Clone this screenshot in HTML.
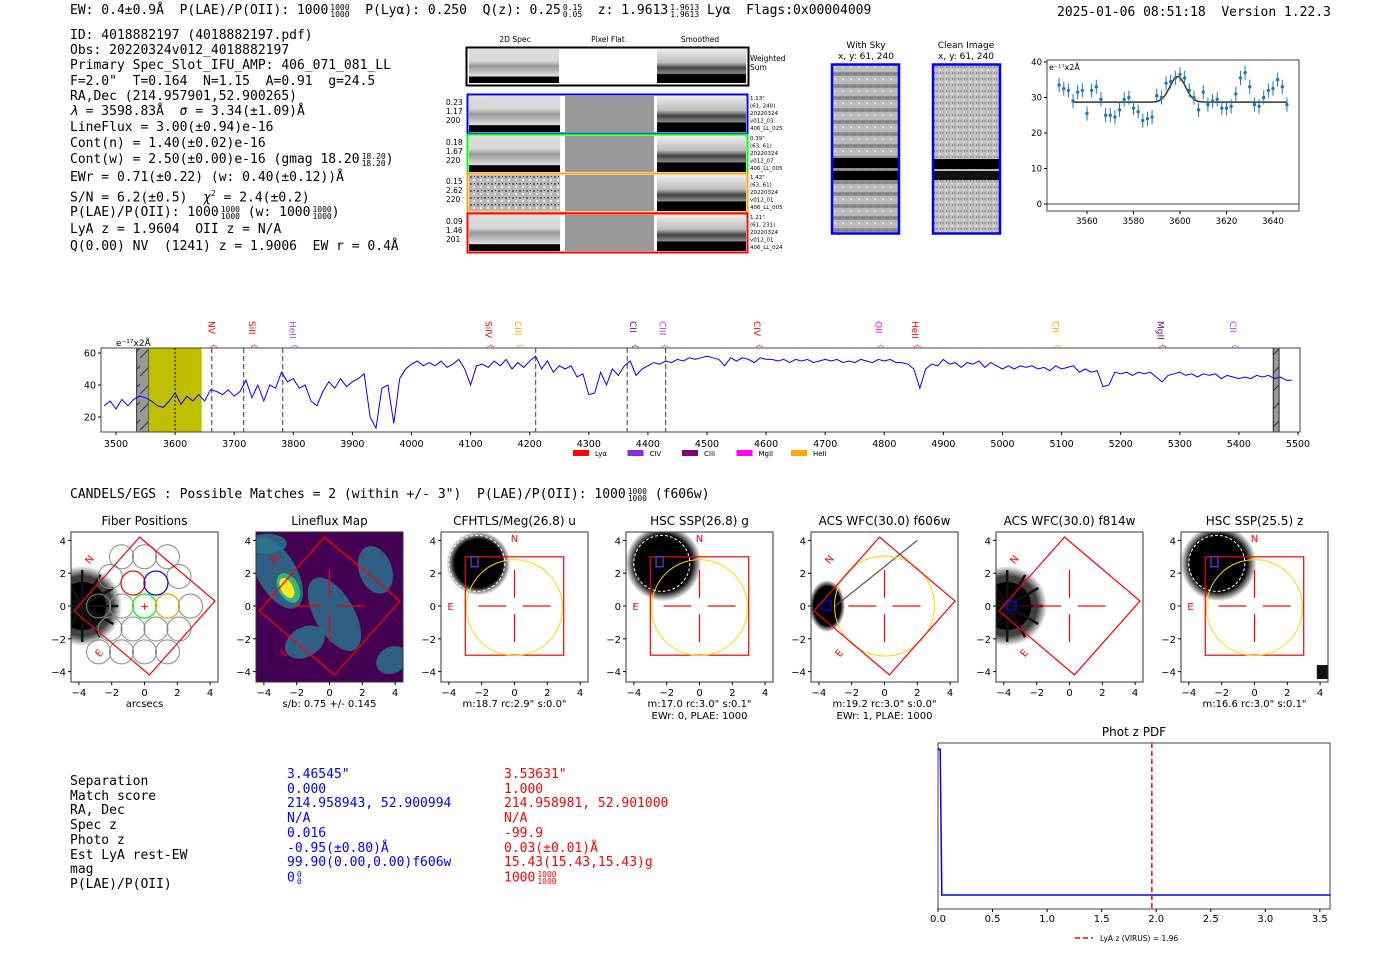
<!DOCTYPE html>
<html><head><meta charset="utf-8">
<style>
body{margin:0;background:#fff;width:1400px;height:953px;overflow:hidden;position:relative;font-family:"DejaVu Sans Mono","Liberation Mono",monospace;}
.t{position:absolute;white-space:pre;color:#000;font-size:13px;line-height:15px;}
.fr{display:inline-block;vertical-align:middle;font-size:8px;line-height:7px;text-align:center;margin-left:2px;}
.fr span{display:block}
svg{position:absolute;left:0;top:0}
</style></head><body>
<svg id="main" width="1400" height="953" viewBox="0 0 1400 953"></svg>

<div class="t" style="left:70px;top:3px">EW: 0.4±0.9Å  P(LAE)/P(OII): 1000<span class="fr"><span>1000</span><span>1000</span></span>  P(Lyα): 0.250  Q(z): 0.25<span class="fr"><span>0.15</span><span>0.05</span></span>  z: 1.9613<span class="fr"><span>1.9613</span><span>1.9613</span></span> Lyα  Flags:0x00004009</div>
<div class="t" style="left:1057px;top:5px">2025-01-06 08:51:18  Version 1.22.3</div>

<div class="t" style="left:70px;top:28px;line-height:15.2px">ID: 4018882197 (4018882197.pdf)
Obs: 20220324v012_4018882197
Primary Spec_Slot_IFU_AMP: 406_071_081_LL
F=2.0"  T=0.164  N=1.15  A=0.91  g=24.5
RA,Dec (214.957901,52.900265)</div>
<div class="t" style="left:70px;top:104px;line-height:16px"><i>λ</i> = 3598.83Å  <i>σ</i> = 3.34(±1.09)Å
LineFlux = 3.00(±0.94)e-16
Cont(n) = 1.40(±0.02)e-16</div>
<div class="t" style="left:70px;top:152px">Cont(w) = 2.50(±0.00)e-16 (gmag 18.20<span class="fr"><span>18.20</span><span>18.20</span></span>)</div>
<div class="t" style="left:70px;top:170px">EWr = 0.71(±0.22) (w: 0.40(±0.12))Å</div>
<div class="t" style="left:70px;top:186px">S/N = 6.2(±0.5)  <i>χ</i><sup style="font-size:8px">2</sup> = 2.4(±0.2)</div>
<div class="t" style="left:70px;top:205px">P(LAE)/P(OII): 1000<span class="fr"><span>1000</span><span>1000</span></span> (w: 1000<span class="fr"><span>1000</span><span>1000</span></span>)</div>
<div class="t" style="left:70px;top:222px">LyA z = 1.9604  OII z = N/A</div>
<div class="t" style="left:70px;top:239px">Q(0.00) NV  (1241) z = 1.9006  EW r = 0.4Å</div>

<div class="t" style="left:70px;top:487px">CANDELS/EGS : Possible Matches = 2 (within +/- 3")  P(LAE)/P(OII): 1000<span class="fr"><span>1000</span><span>1000</span></span> (f606w)</div>

<div class="t" style="left:70px;top:775px;line-height:14.7px">Separation
Match score
RA, Dec
Spec z
Photo z
Est LyA rest-EW
mag
P(LAE)/P(OII)</div>
<div class="t" style="left:287px;top:768px;line-height:14.7px;color:#00f">3.46545"
0.000
214.958943, 52.900994
N/A
0.016
-0.95(±0.80)Å
99.90(0.00,0.00)f606w
0<span class="fr"><span>0</span><span>0</span></span></div>
<div class="t" style="left:504px;top:768px;line-height:14.7px;color:#f00">3.53631"
1.000
214.958981, 52.901000
N/A
-99.9
0.03(±0.01)Å
15.43(15.43,15.43)g
1000<span class="fr"><span>1000</span><span>1000</span></span></div>

<script>
// ---------- data ----------
const specStart = 3480, specStep = 10;
const specFlux = [27,30,25,31,27,31,33,32,30,27,26,30,35,28,33,30,34,30,37,36,34,37,33,36,43,32,40,30,40,38,48,42,44,38,40,30,27,36,42,38,44,39,42,44,47,20,13,38,40,16,44,50,53,55,52,54,52,55,51,53,56,50,40,52,53,51,55,52,56,50,54,51,55,58,50,55,48,52,50,52,45,47,34,35,48,40,50,46,52,55,46,50,52,54,53,55,54,56,55,57,56,57,58,57,56,52,57,55,57,56,54,57,56,56,55,56,54,56,55,56,54,55,56,55,56,54,55,54,56,55,54,56,55,56,54,54,53,50,38,50,53,52,56,53,54,51,54,53,55,51,54,52,50,52,50,52,51,52,50,51,49,52,50,51,52,48,50,48,49,39,40,48,47,48,46,48,47,48,45,42,46,47,48,46,47,45,47,46,47,44,46,45,44,45,44,46,45,46,44,45,43,43];
const specXTicks = [3500,3600,3700,3800,3900,4000,4100,4200,4300,4400,4500,4600,4700,4800,4900,5000,5100,5200,5300,5400,5500];
const specYTicks = [20,40,60];
const lineMarkers = [3662,3716,3782,4210,4365,4430];
const lineLabels = [["NV",3662,"#f00"],["SiII",3730,"#f00"],["HeII",3799,"#a040ff"],["SiIV",4130,"#f00"],["CIII",4180,"#ffa500"],["CII",4375,"#800080"],["CIII",4425,"#a040ff"],["CIV",4585,"#f00"],["OII",4790,"#f0f"],["HeII",4852,"#f00"],["CII",5090,"#ffa500"],["MgII",5267,"#800080"],["CII",5390,"#a040ff"]];
const legendNames = ["Lyα","CIV","CIII","MgII","HeII"];
const legendColors = ["#f00","#8a2be2","#800080","#f0f","#ffa500"];

const fitWave = [3548,3550,3552,3554,3556,3558,3560,3562,3564,3566,3568,3570,3572,3574,3576,3578,3580,3582,3584,3586,3588,3590,3592,3594,3596,3598,3600,3602,3604,3606,3608,3610,3612,3614,3616,3618,3620,3622,3624,3626,3628,3630,3632,3634,3636,3638,3640,3642,3644,3646];
const fitFlux = [33.5,32.5,32,29,31.5,32,25.5,32,33,29.5,25,25,24.5,26.5,29.5,30,27,26,23.5,24,24.5,30.5,30,34,34.5,35.5,36.5,35.5,32,30,26.5,31.5,28,29,29.5,27,27,27.5,31,35.5,37,33,28,27.5,30,32,32.5,35,33,28];
const fitErr = 2;
const fitCont = 28.7, fitAmp = 7.2, fitCenter = 3599, fitSigma = 3.34;
const fitXTicks = [3560,3580,3600,3620,3640];
const fitYTicks = [0,10,20,30,40];

const pdfZ = [0,0.01,0.02,0.035,3.6];
const pdfP = [1,0.99,0.99,0.02,0.02];
const pdfXTicks = [0,0.5,1.0,1.5,2.0,2.5,3.0,3.5];
const pdfLyaZ = 1.96;

// ---------- helpers ----------
const svg = document.getElementById('main');
const NS = 'http://www.w3.org/2000/svg';
function mk(tag, at, parent){const e=document.createElementNS(NS,tag);for(const k in at)e.setAttribute(k,at[k]);(parent||svg).appendChild(e);return e;}
function txt(x,y,s,size,anchor,fill,parent,rot){const e=mk('text',{x:x,y:y,'font-size':size,'text-anchor':anchor||'middle',fill:fill||'#000','font-family':'DejaVu Sans, Liberation Sans, sans-serif'},parent);if(rot)e.setAttribute('transform','rotate('+rot+' '+x+' '+y+')');e.textContent=s;return e;}

const defs = mk('defs',{});
defs.innerHTML = `
<pattern id="hatch" width="10" height="18" patternUnits="userSpaceOnUse"><rect width="10" height="18" fill="#999"/><path d="M0 16 L10 6" stroke="#333" stroke-width="1"/></pattern>
<pattern id="noise" width="6" height="6" patternUnits="userSpaceOnUse"><rect width="6" height="6" fill="#c0c0c0"/><rect x="0" y="0" width="2" height="2" fill="#a0a0a0"/><rect x="3" y="3" width="2" height="2" fill="#ddd"/><rect x="4" y="0" width="1" height="2" fill="#888"/></pattern>
<pattern id="noise2" width="7" height="7" patternUnits="userSpaceOnUse"><rect width="7" height="7" fill="#b8b8b8"/><rect x="1" y="1" width="2" height="2" fill="#666"/><rect x="4" y="4" width="2" height="2" fill="#eee"/><rect x="5" y="1" width="1" height="1" fill="#333"/></pattern>
<pattern id="skystripe" width="8" height="12" patternUnits="userSpaceOnUse"><rect width="8" height="12" fill="#bbb"/><rect y="0" width="8" height="4" fill="#8c8c8c"/><rect x="2" y="6" width="2" height="2" fill="#ddd"/><rect x="6" y="2" width="1" height="1" fill="#555"/></pattern>
<radialGradient id="blob"><stop offset="0" stop-color="#000"/><stop offset="0.75" stop-color="#000"/><stop offset="1" stop-color="#000" stop-opacity="0"/></radialGradient>
<linearGradient id="specband" x1="0" y1="0" x2="0" y2="1"><stop offset="0" stop-color="#ddd"/><stop offset="0.35" stop-color="#d8d8d8"/><stop offset="0.5" stop-color="#999"/><stop offset="0.65" stop-color="#bbb"/><stop offset="0.8" stop-color="#e0e0e0"/><stop offset="0.82" stop-color="#000"/><stop offset="1" stop-color="#000"/></linearGradient>
<linearGradient id="smband" x1="0" y1="0" x2="0" y2="1"><stop offset="0" stop-color="#eee"/><stop offset="0.4" stop-color="#bbb"/><stop offset="0.55" stop-color="#444"/><stop offset="0.72" stop-color="#888"/><stop offset="0.75" stop-color="#000"/><stop offset="1" stop-color="#000"/></linearGradient>`;

// ---------- 2D spectra panels ----------
const g2d = mk('g',{});
txt(515,42,'2D Spec',7.5,'middle','#000',g2d);
txt(608,42,'Pixel Flat',7.5,'middle','#000',g2d);
txt(700,42,'Smoothed',7.5,'middle','#000',g2d);
mk('rect',{x:466.5,y:47.5,width:282,height:38,fill:'#fff',stroke:'#000','stroke-width':2},g2d);
mk('rect',{x:469,y:49,width:90,height:34,fill:'url(#specband)'},g2d);
mk('rect',{x:657,y:49,width:89,height:34,fill:'url(#smband)'},g2d);
txt(750,61,'Weighted',7.5,'start','#000',g2d);txt(750,70,'Sum',7.5,'start','#000',g2d);
const rows=[{y:94,c:'#00f',l:['0.23','1.17','200'],r:['1.13"','(61, 240)','20220324','v012_03','406_LL_025']},
{y:134,c:'#0f0',l:['0.18','1.67','220'],r:['0.39"','(63, 61)','20220324','v012_07','406_LL_005']},
{y:173,c:'#ffa500',l:['0.15','2.62','220'],r:['1.42"','(63, 61)','20220324','v012_01','406_LL_005']},
{y:213,c:'#f00',l:['0.09','1.46','201'],r:['1.21"','(61, 231)','20220324','v012_01','406_LL_024']}];
rows.forEach((r,i)=>{
  const g=mk('g',{},g2d);
  
  
  mk('rect',{x:469,y:r.y+2,width:91,height:36,fill:i==2?'url(#noise2)':'url(#specband)'},g);
  mk('rect',{x:565,y:r.y+2,width:89,height:36,fill:'#999'},g);
  mk('rect',{x:657,y:r.y+2,width:89,height:36,fill:'url(#smband)'},g);
  mk('rect',{x:467.5,y:r.y+0.5,width:280,height:39,fill:'none',stroke:r.c,'stroke-width':2},g);
  r.l.forEach((s,k)=>txt(446,r.y+11+k*9,s,7.5,'start','#000',g));
  r.r.forEach((s,k)=>txt(750,r.y+6+k*7.5,s,5.5,'start','#000',g));
});
const gs = mk('g',{});
txt(866,48,'With Sky',9,'middle','#000',gs);txt(866,59,'x, y: 61, 240',9,'middle','#000',gs);
txt(966,48,'Clean Image',9,'middle','#000',gs);txt(966,59,'x, y: 61, 240',9,'middle','#000',gs);
mk('rect',{x:832,y:65,width:67,height:168,fill:'url(#skystripe)'},gs);
mk('rect',{x:832,y:158,width:67,height:10,fill:'#000'},gs);
mk('rect',{x:832,y:171,width:67,height:9,fill:'#000'},gs);
mk('rect',{x:832,y:64.5,width:67,height:169,fill:'none',stroke:'#00f','stroke-width':2.5},gs);
mk('rect',{x:933,y:65,width:67,height:168,fill:'url(#noise)'},gs);
mk('rect',{x:933,y:159,width:67,height:10,fill:'#000'},gs);
mk('rect',{x:933,y:171,width:67,height:9,fill:'#111'},gs);
mk('rect',{x:933,y:64.5,width:67,height:169,fill:'none',stroke:'#00f','stroke-width':2.5},gs);

// ---------- fit plot ----------
(function(){
  const L=1047,R=1299,T=60,B=211;
  const X=w=>1087+(w-3560)*(186/80), Y=v=>204-v*3.55;
  const g=mk('g',{});
  mk('rect',{x:L,y:T,width:R-L,height:B-T,fill:'#fff',stroke:'#444','stroke-width':1},g);
  mk('line',{x1:L,x2:R,y1:Y(0),y2:Y(0),stroke:'#444','stroke-width':1},g);
  fitYTicks.forEach(v=>{mk('line',{x1:L-3,x2:L,y1:Y(v),y2:Y(v),stroke:'#000'},g);txt(L-5,Y(v)+3,String(v),8.5,'end','#000',g);});
  fitXTicks.forEach(v=>{mk('line',{x1:X(v),x2:X(v),y1:B,y2:B+3,stroke:'#000'},g);txt(X(v),B+13,String(v),8.5,'middle','#000',g);});
  let d='';
  for(let w=3554;w<=3646;w+=0.5){const v=fitCont+fitAmp*Math.exp(-0.5*Math.pow((w-fitCenter)/fitSigma,2));d+=(d?'L':'M')+X(w).toFixed(1)+' '+Y(v).toFixed(1);}
  const fl=mk('path',{d:d,fill:'none',stroke:'#333','stroke-width':1.5},g);
  
  
  fitWave.forEach((w,i)=>{
    const p=mk('g',{},g);
    
    
    mk('line',{x1:X(w),x2:X(w),y1:Y(fitFlux[i]-fitErr),y2:Y(fitFlux[i]+fitErr),stroke:'#1f77b4','stroke-width':1},p);
    mk('circle',{cx:X(w),cy:Y(fitFlux[i]),r:1.7,fill:'#1f77b4'},p);
  });
  txt(L+2,T+10,'e⁻¹⁷x2Å',8,'start','#000',g);
})();

// ---------- spectrum ----------
(function(){
  const L=101,R=1300,T=348,B=432;
  const X=w=>116+(w-3500)*(1182/2000), Y=v=>417-(v-20)*1.6;
  const g=mk('g',{});
  mk('rect',{x:L,y:T,width:R-L,height:B-T,fill:'#fff'},g);
  mk('rect',{x:X(3535),y:T,width:X(3555)-X(3535),height:B-T,fill:'url(#hatch)',stroke:'#000','stroke-width':0.8},g);
  mk('rect',{x:X(3555),y:T,width:X(3645)-X(3555),height:B-T,fill:'#bfbf00'},g);
  mk('rect',{x:X(5458),y:T,width:X(5468)-X(5458),height:B-T,fill:'url(#hatch)',stroke:'#000','stroke-width':0.8},g);
  mk('line',{x1:X(3600),x2:X(3600),y1:T,y2:B,stroke:'#000','stroke-width':1,'stroke-dasharray':'2,2'},g);
  lineMarkers.forEach(w=>{const l=mk('line',{x1:X(w),x2:X(w),y1:T,y2:B,stroke:'#666','stroke-width':1.3,'stroke-dasharray':'5,3'},g);});
  let d='';
  specFlux.forEach((v,i)=>{const w=specStart+i*specStep;d+=(i?'L':'M')+X(w).toFixed(1)+' '+Y(v).toFixed(1);});
  const p=mk('path',{d:d,fill:'none',stroke:'#00f','stroke-width':1},g);
  
  
  mk('rect',{x:L,y:T,width:R-L,height:B-T,fill:'none',stroke:'#444','stroke-width':1},g);
  specYTicks.forEach(v=>{mk('line',{x1:L-3,x2:L,y1:Y(v),y2:Y(v),stroke:'#000'},g);txt(L-5,Y(v)+3.5,String(v),9.5,'end','#000',g);});
  specXTicks.forEach(v=>{mk('line',{x1:X(v),x2:X(v),y1:B,y2:B+3,stroke:'#000'},g);txt(X(v),B+15,String(v),9.5,'middle','#000',g);});
  txt(116,346,'e⁻¹⁷x2Å',9,'start','#000',g);
  lineLabels.forEach(a=>{
    const lx=X(a[1]);
    const t=txt(lx-3,321,a[0],9,'start',a[2],g,90);
    
    
    txt(lx,346,'{',7,'middle',a[2],g,90);
  });
  legendNames.forEach((n,i)=>{
    const x=573+i*54.5;
    const e=mk('g',{},g);
    
    
    mk('rect',{x:x,y:450,width:16,height:6,fill:legendColors[i]},e);
    txt(x+22,456,n,7,'start','#000',e);
  });
})();

// ---------- cutout panels ----------
const panels=[
 {title:'Fiber Positions',sub:['arcsecs']},
 {title:'Lineflux Map',sub:['s/b: 0.75 +/- 0.145']},
 {title:'CFHTLS/Meg(26.8) u',sub:['m:18.7 rc:2.9"  s:0.0"']},
 {title:'HSC SSP(26.8) g',sub:['m:17.0 rc:3.0"  s:0.1"','EWr: 0, PLAE: 1000']},
 {title:'ACS WFC(30.0) f606w',sub:['m:19.2 rc:3.0"  s:0.0"','EWr: 1, PLAE: 1000']},
 {title:'ACS WFC(30.0) f814w',sub:[]},
 {title:'HSC SSP(25.5) z',sub:['m:16.6 rc:3.0"  s:0.1"']}];
panels.forEach((P,i)=>{
  const x0=71+i*185, y0=532, W=147, H=150;
  const U=u=>x0+73.5+u*16.4, V=v=>606-v*16.4;
  const g=mk('g',{});
  
  
  const cp=mk('clipPath',{id:'cp'+i},defs);mk('rect',{x:x0,y:y0,width:W,height:H},cp);
  const c=mk('g',{'clip-path':'url(#cp'+i+')'},g);
  txt(x0+W/2,y0-7,P.title,12,'middle','#000',g);
  const red='#f00';
  const diamond=()=>mk('polygon',{points:[[-0.3,4.2],[4.3,0.3],[0.3,-4.2],[-4.3,-0.3]].map(p=>U(p[0])+','+V(p[1])).join(' '),fill:'none',stroke:red,'stroke-width':1.2},c);
  const cross=()=>{[[-2.2,0,-0.5,0],[0.5,0,2.2,0],[0,2.2,0,0.5],[0,-0.5,0,-2.2]].forEach(s=>mk('line',{x1:U(s[0]),y1:V(s[1]),x2:U(s[2]),y2:V(s[3]),stroke:red,'stroke-width':1.2},c));};
  if(i==1){
    mk('rect',{x:x0,y:y0,width:W,height:H,fill:'#440154'},c);
    [[-3.2,2,1.2,2.4,-30],[0.3,-0.5,1.2,2.5,-30],[-1.5,-2.2,1.3,0.9,-30],[2.8,2.2,1,1.5,-20],[3.8,-3.3,1,0.8,-30],[-3.8,3.8,1.2,0.6,0]].forEach(b=>mk('ellipse',{cx:U(b[0]),cy:V(b[1]),rx:b[2]*16.4,ry:b[3]*16.4,fill:'#2a788e',opacity:0.8,transform:`rotate(${b[4]} ${U(b[0])} ${V(b[1])})`},c));
    mk('ellipse',{cx:U(-2.5),cy:V(1.1),rx:10,ry:16,fill:'#35b779',transform:`rotate(-30 ${U(-2.5)} ${V(1.1)})`},c);
    mk('ellipse',{cx:U(-2.6),cy:V(1.1),rx:6,ry:11,fill:'#fde725',transform:`rotate(-30 ${U(-2.6)} ${V(1.1)})`},c);
  } else {
    mk('rect',{x:x0,y:y0,width:W,height:H,fill:'#fff'},c);
  }
  if(i==0||i==5){
    mk('circle',{cx:U(-3.8),cy:V(0),r:40,fill:'url(#blob)',opacity:0.75},c);
    mk('circle',{cx:U(-3.8),cy:V(0),r:24,fill:'#000'},c);
    for(let k=0;k<12;k++){const a=k*30*Math.PI/180;mk('line',{x1:U(-3.8),y1:V(0),x2:U(-3.8)+Math.cos(a)*36,y2:V(0)+Math.sin(a)*36,stroke:'#111','stroke-width':2.5},c);}
  }
  if(i==0){
    const hex=[[-1.4,3],[0,3],[1.4,3],[-2.1,1.8],[-0.7,1.4],[0.7,1.4],[2.1,1.8],[-1.4,0],[0,0],[1.4,0],[2.8,0],[-2.1,-1.4],[-0.7,-1.4],[0.7,-1.4],[2.1,-1.4],[-1.4,-2.8],[0,-2.8],[1.4,-2.8],[-2.8,0],[-2.8,-2.8]];
    hex.forEach(h=>mk('circle',{cx:U(h[0]),cy:V(h[1]),r:12,fill:'none',stroke:'#888','stroke-width':1},c));
    mk('circle',{cx:U(-0.7),cy:V(1.4),r:12,fill:'none',stroke:'#f00','stroke-width':1.2},c);
    mk('circle',{cx:U(0.7),cy:V(1.4),r:12,fill:'none',stroke:'#00f','stroke-width':1.2},c);
    mk('circle',{cx:U(0),cy:V(0),r:12,fill:'none',stroke:'#0f0','stroke-width':1.2},c);
    mk('circle',{cx:U(1.4),cy:V(0),r:12,fill:'none',stroke:'#ffa500','stroke-width':1.2},c);
    txt(U(0),V(0)+4,'+',11,'middle',red,c);
  }
  if(i==2||i==3||i==6){
    mk('circle',{cx:U(-2.2),cy:V(2.6),r:i==2?32:38,fill:'url(#blob)'},c);
    mk('circle',{cx:U(-2.3),cy:V(2.6),r:28,fill:'none',stroke:'#fff','stroke-width':1,'stroke-dasharray':'3,2'},c);
    mk('rect',{x:U(-3),y:V(3),width:6*16.4,height:6*16.4,fill:'none',stroke:red,'stroke-width':1.2},c);
    mk('circle',{cx:U(0),cy:V(-0.1),r:48,fill:'none',stroke:'#ffd700','stroke-width':1},c);
    mk('rect',{x:U(-2.65),y:V(3),width:7,height:10,fill:'none',stroke:'#6040ff','stroke-width':1.2},c);
    txt(U(0),V(3.9),'N',10,'middle',red,c);txt(U(-3.9),V(0)+4,'E',10,'middle',red,c);
    if(i==6) mk('rect',{x:U(3.8),y:V(-3.6),width:14,height:14,fill:'#111'},c);
  }
  if(i==4){
    mk('ellipse',{cx:U(-3.5),cy:V(0),rx:18,ry:26,fill:'url(#blob)'},c);
    mk('ellipse',{cx:U(-3.5),cy:V(0),rx:19,ry:28,fill:'none',stroke:'#fff','stroke-width':1,'stroke-dasharray':'3,2'},c);
    mk('line',{x1:U(-3),y1:V(0),x2:U(2),y2:V(4),stroke:'#555','stroke-width':1.2},c);
    mk('circle',{cx:U(0),cy:V(0),r:50,fill:'none',stroke:'#ffd700','stroke-width':1},c);
    mk('rect',{x:U(-3.8),y:V(0.3),width:9,height:9,fill:'none',stroke:'#00f','stroke-width':1.2},c);
  }
  if(i==5) mk('rect',{x:U(-3.8),y:V(0.3),width:9,height:9,fill:'none',stroke:'#00f','stroke-width':1.2},c);
  if(i==0||i==1||i==4||i==5){diamond();txt(U(-3.2),V(2.7),'N',10,'middle',red,c,-50);txt(U(-2.6),V(-3),'E',10,'middle',red,c,-50);}
  if(i>0) cross();
  mk('rect',{x:x0,y:y0,width:W,height:H,fill:'none',stroke:'#333','stroke-width':1},g);
  [-4,-2,0,2,4].forEach(v=>{
    mk('line',{x1:U(v),x2:U(v),y1:y0+H,y2:y0+H+3,stroke:'#000'},g);
    txt(U(v),y0+H+14,v<0?'−'+(-v):String(v),10,'middle','#000',g);
    mk('line',{x1:x0-3,x2:x0,y1:V(v),y2:V(v),stroke:'#000'},g);
    txt(x0-5,V(v)+4,v<0?'−'+(-v):String(v),10,'end','#000',g);
  });
  P.sub.forEach((s,k)=>txt(x0+W/2,y0+H+25+k*12,s,10,'middle','#000',g));
});

// ---------- photz PDF ----------
(function(){
  const L=938,R=1330,T=743,B=909;
  const X=z=>938+z*109.1, Y=p=>898-p*150;
  const g=mk('g',{});
  txt((L+R)/2,736,'Phot z PDF',12,'middle','#000',g);
  mk('rect',{x:L,y:T,width:R-L,height:B-T,fill:'#fff',stroke:'#444','stroke-width':1},g);
  let d='';pdfZ.forEach((z,i)=>{d+=(i?'L':'M')+X(z).toFixed(1)+' '+Y(pdfP[i]).toFixed(1);});
  const p=mk('path',{d:d,fill:'none',stroke:'#00f','stroke-width':1.5},g);
  
  
  const v=mk('line',{x1:X(pdfLyaZ),x2:X(pdfLyaZ),y1:T,y2:B,stroke:'#f00','stroke-width':1.5,'stroke-dasharray':'5,3'},g);
  
  
  pdfXTicks.forEach(z=>{mk('line',{x1:X(z),x2:X(z),y1:B,y2:B+3,stroke:'#000'},g);txt(X(z),B+13,z.toFixed(1),10,'middle','#000',g);});
  mk('line',{x1:1075,x2:1093,y1:938,y2:938,stroke:'#f00','stroke-width':1.5,'stroke-dasharray':'5,3'},g);
  txt(1100,941,'LyA z (VIRUS) = 1.96',7.5,'start','#000',g);
})();
</script>
</body></html>
